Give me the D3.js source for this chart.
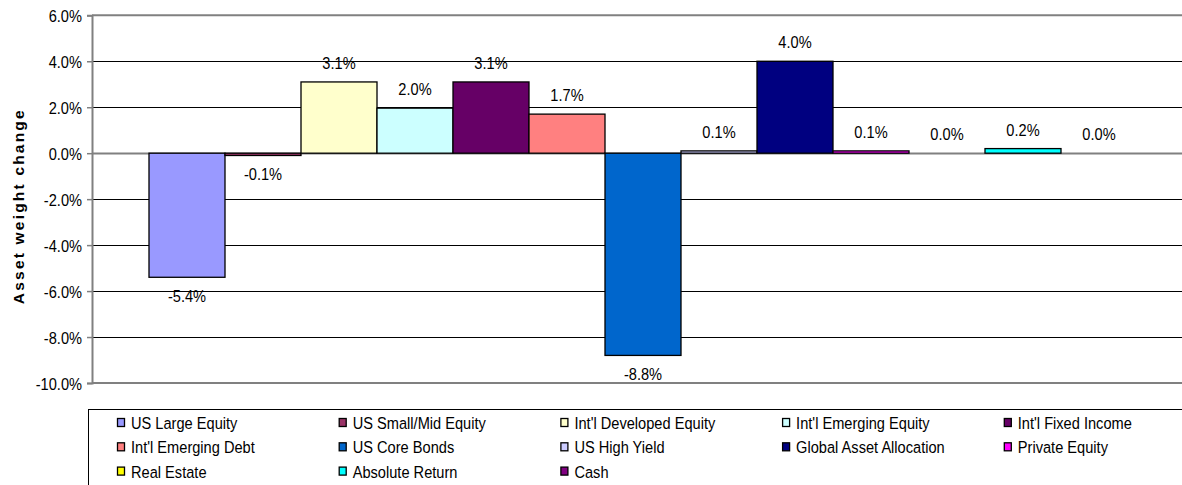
<!DOCTYPE html>
<html>
<head>
<meta charset="utf-8">
<script src="https://cdn.jsdelivr.net/npm/d3@7"></script>
<style>
  html, body { margin: 0; padding: 0; background: #fff; }
  svg { display: block; font-family: "Liberation Sans", Arial, sans-serif; }
</style>
</head>
<body>
<svg id="chart" width="1182" height="485"></svg>
<script>
// ---- data ----
const categories = [
  "US Large Equity", "US Small/Mid Equity", "Int'l Developed Equity", "Int'l Emerging Equity", "Int'l Fixed Income",
  "Int'l Emerging Debt", "US Core Bonds", "US High Yield", "Global Asset Allocation", "Private Equity",
  "Real Estate", "Absolute Return", "Cash"
];
const values = [-5.4, -0.1, 3.1, 1.96, 3.1, 1.7, -8.8, 0.1, 4.0, 0.1, 0.0, 0.2, 0.0];
const seriesColors = [
  "#9999FF", "#993366", "#FFFFCC", "#CCFFFF", "#660066",
  "#FF8080", "#0066CC", "#CCCCFF", "#000080", "#FF00FF",
  "#FFFF00", "#00FFFF", "#800080"
];
const yTicks = [6, 4, 2, 0, -2, -4, -6, -8, -10];
const yTitle = "Asset weight change";

// ---- layout ----
const plotLeft = 92, plotRight = 1194, plotTop = 15.3, plotBottom = 383;
const SX = 0.86; // horizontal text compression
const FS = 17;
const fmt = v => v.toFixed(1);

const svg = d3.select("#chart");

const y = d3.scaleLinear().domain([-10, 6]).range([plotBottom, plotTop]);
const x = d3.scaleBand().domain(categories).range([plotLeft, plotRight]).paddingInner(0).paddingOuter(0.75);
const color = d3.scaleOrdinal().domain(categories).range(seriesColors);

function txt(parent, tx, ty, s, anchor, size) {
  return parent.append("text")
    .attr("transform", `translate(${tx},${ty}) scale(${SX},1)`)
    .attr("text-anchor", anchor || "start")
    .attr("font-size", size || FS)
    .attr("fill", "#000")
    .text(s);
}

// gridlines
svg.append("g").selectAll("line")
  .data(yTicks.filter(v => v !== 6 && v !== -10))
  .join("line")
  .attr("x1", plotLeft).attr("x2", plotRight)
  .attr("y1", d => Math.round(y(d)) + 0.5).attr("y2", d => Math.round(y(d)) + 0.5)
  .attr("stroke", "#000").attr("stroke-width", 1);

// category axis at zero
svg.append("line")
  .attr("x1", plotLeft).attr("x2", plotRight)
  .attr("y1", Math.round(y(0)) + 0.5).attr("y2", Math.round(y(0)) + 0.5)
  .attr("stroke", "#808080").attr("stroke-width", 2);

// bars
svg.append("g").selectAll("rect")
  .data(categories.map((c, i) => ({ c, v: values[i] })))
  .join("rect")
  .attr("x", d => x(d.c))
  .attr("width", x.bandwidth())
  .attr("y", d => y(Math.max(0, d.v)))
  .attr("height", d => Math.abs(y(d.v) - y(0)))
  .attr("fill", d => color(d.c))
  .attr("stroke", "#000").attr("stroke-width", 1.3);

// plot frame (top, bottom)
const frame = svg.append("g").attr("stroke", "#808080").attr("stroke-width", 2);
frame.append("line").attr("x1", plotLeft).attr("x2", plotRight).attr("y1", y(6)).attr("y2", y(6));
frame.append("line").attr("x1", plotLeft).attr("x2", plotRight).attr("y1", y(-10)).attr("y2", y(-10));

// y axis
const yAxis = d3.axisLeft(y).tickValues(yTicks).tickSize(5).tickPadding(6).tickFormat(d => fmt(d) + "%");
const ag = svg.append("g").attr("transform", `translate(${plotLeft},0)`).call(yAxis);
ag.select(".domain").attr("stroke", "#808080").attr("stroke-width", 2);
ag.selectAll(".tick line").attr("stroke", "#808080").attr("stroke-width", 1.5);
ag.selectAll(".tick text")
  .attr("font-size", FS)
  .attr("font-family", "Liberation Sans, Arial, sans-serif")
  .attr("fill", "#000")
  .attr("x", 0).attr("dy", "0.36em")
  .attr("transform", `translate(-10,0) scale(${SX},1)`);

// y title
svg.append("text")
  .attr("transform", `translate(24,${(plotTop + plotBottom) / 2 + 7}) rotate(-90)`)
  .attr("text-anchor", "middle")
  .attr("font-size", 15.5)
  .attr("font-weight", "bold")
  .attr("letter-spacing", 2.2)
  .text(yTitle);

// data labels
const lg = svg.append("g");
categories.forEach((c, i) => {
  const v = values[i];
  const cx = x(c) + x.bandwidth() / 2;
  const cy = v >= 0 ? y(v) - 19 : y(v) + 19;
  txt(lg, cx, cy + 6, fmt(v) + "%", "middle");
});

// legend
svg.append("rect")
  .attr("x", 88.5).attr("y", 409.5).attr("width", 1200).attr("height", 120)
  .attr("fill", "none").attr("stroke", "#000").attr("stroke-width", 1);

const legCols = 5, colX0 = 117, colStep = 221.7, rowY0 = 423, rowStep = 24.3;
const leg = svg.append("g");
categories.forEach((c, i) => {
  const col = i % legCols, row = Math.floor(i / legCols);
  const lx = colX0 + col * colStep, ly = rowY0 + row * rowStep;
  leg.append("rect")
    .attr("x", lx + 0.5).attr("y", ly - 4.5).attr("width", 7).attr("height", 8)
    .attr("fill", color(c)).attr("stroke", "#000").attr("stroke-width", 1.3);
  txt(leg, lx + 14, ly + 6, c, "start");
});
</script>
</body>
</html>
